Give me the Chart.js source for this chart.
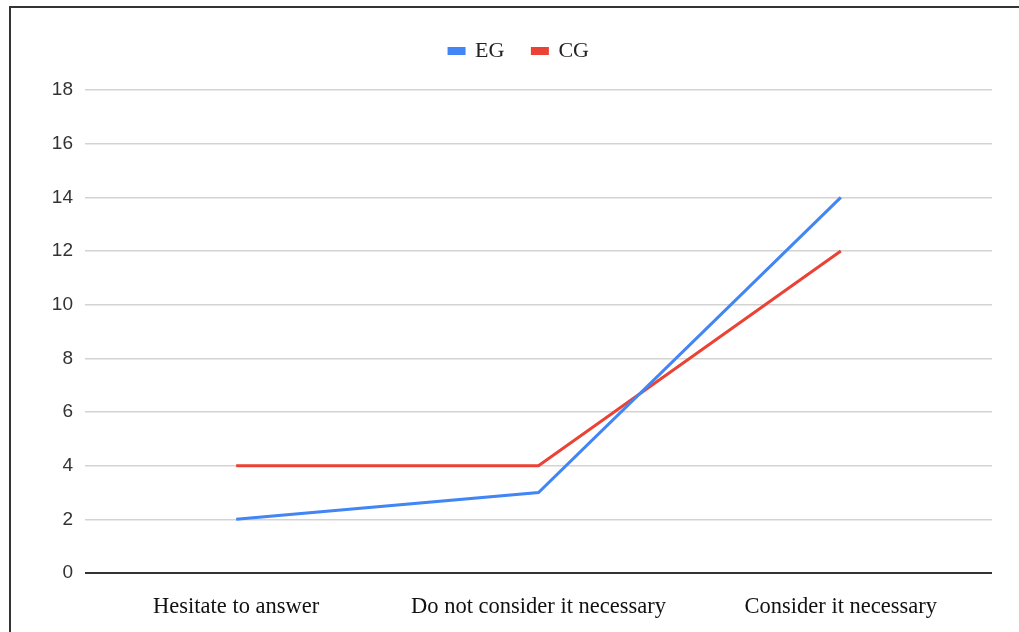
<!DOCTYPE html>
<html>
<head>
<meta charset="utf-8">
<style>
  html, body { margin: 0; padding: 0; background: #fff; }
  #wrap { position: relative; width: 1019px; height: 632px; overflow: hidden; }
  #frame { position: absolute; left: 9px; top: 6px; width: 1100px; height: 700px;
           border-left: 2px solid #333; border-top: 2px solid #333; box-sizing: border-box; }
  #c { position: absolute; left: 0; top: 0; }
</style>
<script src="https://cdn.jsdelivr.net/npm/chart.js@4/dist/chart.umd.min.js"></script>
</head>
<body>
<div id="wrap">
  <div id="frame"></div>
  <canvas id="c" width="1019" height="632"></canvas>
</div>
<script>
const categories = ["Hesitate to answer", "Do not consider it necessary", "Consider it necessary"];
const egValues = [2, 3, 14];
const cgValues = [4, 4, 12];
const yTicks = [0, 2, 4, 6, 8, 10, 12, 14, 16, 18];

const serif = "'Liberation Serif', 'Times New Roman', serif";
const sans = "'Liberation Sans', Arial, sans-serif";

new Chart(document.getElementById('c'), {
  type: 'line',
  data: {
    labels: categories,
    datasets: [
      { label: 'EG', data: egValues, borderColor: '#4285F4', backgroundColor: '#4285F4',
        borderWidth: 3, pointRadius: 0, tension: 0 },
      { label: 'CG', data: cgValues, borderColor: '#EA4335', backgroundColor: '#EA4335',
        borderWidth: 3, pointRadius: 0, tension: 0 }
    ]
  },
  options: {
    responsive: false,
    animation: false,
    layout: { padding: { top: 12, right: 27, left: 46, bottom: 0 } },
    plugins: {
      tooltip: { enabled: false },
      // empty spacer between the legend and the plot
      title: {
        display: true, text: '', position: 'top', weight: 500,
        font: { size: 2, lineHeight: 1 }, padding: { top: 8, bottom: 8 }
      },
      legend: {
        position: 'top',
        labels: {
          boxWidth: 15, boxHeight: 5, padding: 28,
          color: '#222',
          font: { family: serif, size: 22 }
        }
      }
    },
    scales: {
      x: {
        offset: true,
        grid: { display: false },
        border: { display: false },
        ticks: { color: '#111', font: { family: serif, size: 22.5 }, padding: 13, maxRotation: 0 },
        afterFit: (s) => { s.height = 59; }
      },
      y: {
        min: 0, max: 18,
        afterBuildTicks: (s) => { s.ticks = yTicks.map(v => ({ value: v })); },
        grid: {
          drawTicks: false,
          color: (ctx) => ctx.tick && ctx.tick.value === 0 ? '#333' : '#d3d3d3',
          lineWidth: (ctx) => ctx.tick && ctx.tick.value === 0 ? 2 : 1.5
        },
        border: { display: false },
        ticks: { color: '#333', font: { family: sans, size: 19 }, padding: 12 },
        afterFit: (s) => { s.width = 39; }
      }
    }
  }
});
</script>
</body>
</html>
